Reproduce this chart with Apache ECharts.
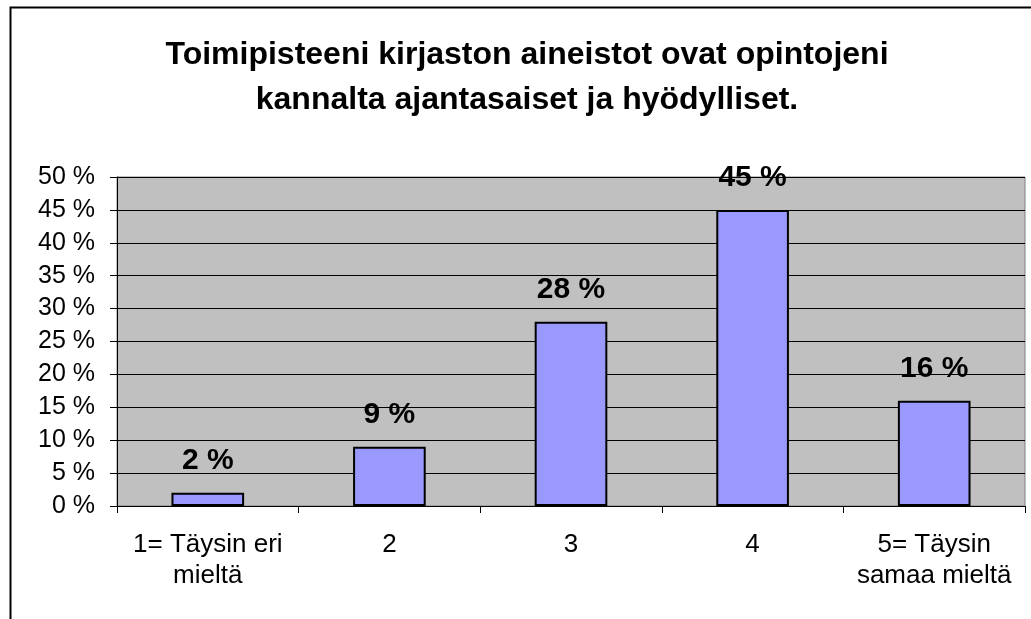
<!DOCTYPE html>
<html><head><meta charset="utf-8">
<script src="https://cdn.jsdelivr.net/npm/echarts@6/dist/echarts.min.js"></script>
<style>html,body{margin:0;padding:0;background:#fff}#c{width:1031px;height:619px}</style>
</head><body><div id="c"></div>
<script>
const titleText = "Toimipisteeni kirjaston aineistot ovat opintojeni\nkannalta ajantasaiset ja hyödylliset.";
const categories = ["1= Täysin eri\nmieltä", "2", "3", "4", "5= Täysin\nsamaa mieltä"];
const values = [2, 9, 28, 45, 16];
const yMin = 0, yMax = 50, yStep = 5;

const chart = echarts.init(document.getElementById('c'), null, {renderer:'canvas'});
const F = 'Arial, "Liberation Sans", sans-serif';
chart.setOption({
  animation: false,
  backgroundColor: '#fff',
  graphic: [
    {type:'rect', shape:{x:10.5, y:7.5, width:1040, height:700}, style:{fill:'none', stroke:'#000', lineWidth:2}, z:-1},
    {type:'rect', shape:{x:117, y:177, width:1031-6-117, height:619-113-177}, style:{fill:'#C0C0C0', stroke:'#808080', lineWidth:1}, z:-1}
  ],
  title: {text: titleText, left: 522, top: 28, textAlign: 'center',
    textStyle: {fontFamily: F, fontSize: 32, fontWeight: 'bold', color: '#000', lineHeight: 45}},
  grid: {left: 117, right: 6, top: 177, bottom: 113},
  xAxis: {type:'category', data: categories,
    axisLine:{lineStyle:{color:'#000', width:1}},
    axisTick:{show:true, alignWithLabel:false, length:7, lineStyle:{color:'#000'}},
    axisLabel:{fontFamily:F, fontSize:26, color:'#000', margin:23, lineHeight:31, interval:0},
    splitLine:{show:false}},
  yAxis: {type:'value', min:yMin, max:yMax, interval:yStep,
    axisLine:{show:true, lineStyle:{color:'#000'}},
    axisTick:{show:true, length:7, lineStyle:{color:'#000'}},
    axisLabel:{fontFamily:F, fontSize:25, color:'#000', margin:22, formatter: v => v + ' %'},
    splitLine:{show:true, lineStyle:{color:'#000', width:1}},
    splitArea:{show:false}},
  series: [{type:'bar', data: values, barWidth:'40%',
    itemStyle:{color:'#9999FF', borderColor:'#000', borderWidth:2},
    label:{show:true, position:'top', distance:17, fontFamily:F, fontSize:30, fontWeight:'bold', color:'#000', formatter: p => p.value + ' %'}
  }]
});
</script></body></html>
